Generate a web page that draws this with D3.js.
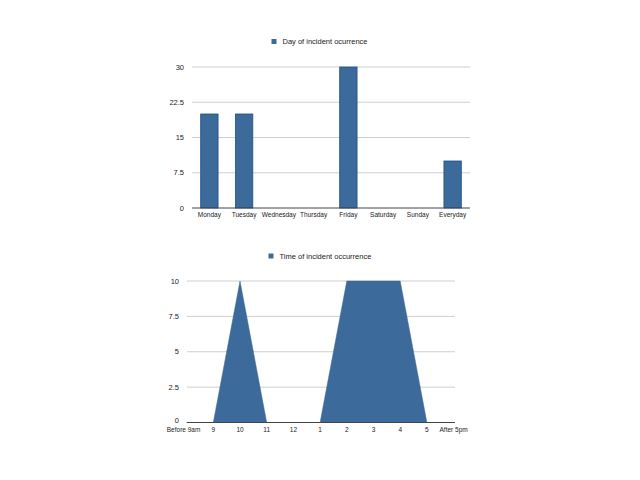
<!DOCTYPE html>
<html>
<head>
<meta charset="utf-8">
<script src="https://cdn.jsdelivr.net/npm/d3@7"></script>
<style>
  html, body { margin: 0; padding: 0; background: #fff; }
  text { font-family: "Liberation Sans", Arial, sans-serif; fill: #222; }
</style>
</head>
<body>
<div id="chart"></div>
<script>
// data
const days = ["Monday", "Tuesday", "Wednesday", "Thursday", "Friday", "Saturday", "Sunday", "Everyday"];
const dayCounts = [20, 20, 0, 0, 30, 0, 0, 10];
const dayTicks = [0, 7.5, 15, 22.5, 30];

const hours = ["Before 9am", "9", "10", "11", "12", "1", "2", "3", "4", "5", "After 5pm"];
const hourCounts = [0, 0, 10, 0, 0, 0, 10, 10, 10, 0, 0];
const hourTicks = [0, 2.5, 5, 7.5, 10];

const BAR_FILL = "#3b6a9b";
const BAR_STROKE = "#1d5088";
const GRID = "#cfcfcf";
const AXIS = "#444";

const svg = d3.select("#chart").append("svg")
  .attr("width", 640)
  .attr("height", 480);

// legend: square + label
function legend(x, y, label) {
  svg.append("rect")
    .attr("x", x).attr("y", y - 2.5)
    .attr("width", 5).attr("height", 5)
    .attr("fill", BAR_FILL);
  svg.append("text")
    .attr("x", x + 11).attr("y", y)
    .attr("dy", "0.35em")
    .attr("font-size", "7.5px")
    .text(label);
}

// y gridlines + labels (zeroLift nudges the "0" label up a bit)
function yGrid(y, ticks, x0, x1, zeroLift) {
  const g = svg.append("g");
  g.selectAll("line")
    .data(ticks.filter(t => t !== 0))
    .join("line")
    .attr("x1", x0).attr("x2", x1)
    .attr("y1", d => y(d)).attr("y2", d => y(d))
    .attr("stroke", GRID).attr("stroke-width", 1);
  g.selectAll("text")
    .data(ticks)
    .join("text")
    .attr("x", x0 - 8)
    .attr("y", d => y(d) - (d === 0 ? zeroLift : 0))
    .attr("dy", "0.35em")
    .attr("text-anchor", "end")
    .attr("font-size", "7.5px")
    .text(d => d);
}

//---------------- day chart (bars) ----------------
legend(271.5, 41.5, "Day of incident ocurrence");

const x1 = d3.scaleBand()
  .domain(days)
  .range([192, 470])
  .paddingInner(0.5)
  .paddingOuter(0.25);

const y1 = d3.scaleLinear()
  .domain([0, 30])
  .range([208, 67]);

yGrid(y1, dayTicks, 192, 470, 0);

svg.append("g")
  .selectAll("rect")
  .data(days.map((d, i) => ({ day: d, v: dayCounts[i] })).filter(d => d.v > 0))
  .join("rect")
  .attr("x", d => x1(d.day))
  .attr("y", d => y1(d.v))
  .attr("width", x1.bandwidth())
  .attr("height", d => y1(0) - y1(d.v))
  .attr("fill", BAR_FILL)
  .attr("stroke", BAR_STROKE)
  .attr("stroke-width", 0.8);

svg.append("line")
  .attr("x1", 192).attr("x2", 470)
  .attr("y1", y1(0)).attr("y2", y1(0))
  .attr("stroke", AXIS);

svg.append("g")
  .selectAll("text")
  .data(days)
  .join("text")
  .attr("x", d => x1(d) + x1.bandwidth() / 2)
  .attr("y", 215)
  .attr("dy", "0.35em")
  .attr("text-anchor", "middle")
  .attr("font-size", "6.5px")
  .text(d => d);

//---------------- time chart (area) ----------------
legend(268.5, 256, "Time of incident occurrence");

const x2 = d3.scalePoint()
  .domain(hours)
  .range([186.6, 453.6]);

const y2 = d3.scaleLinear()
  .domain([0, 10])
  .range([422.5, 281]);

yGrid(y2, hourTicks, 187, 455, 2);

const area = d3.area()
  .x((d, i) => x2(hours[i]))
  .y0(y2(0))
  .y1(d => y2(d));

svg.append("path")
  .datum(hourCounts)
  .attr("d", area)
  .attr("fill", BAR_FILL)
  .attr("stroke", BAR_FILL)
  .attr("stroke-width", 0.5);

svg.append("line")
  .attr("x1", 187).attr("x2", 455)
  .attr("y1", y2(0)).attr("y2", y2(0))
  .attr("stroke", AXIS);

svg.append("g")
  .selectAll("text")
  .data(hours)
  .join("text")
  .attr("x", d => x2(d) - (d === "Before 9am" ? 3 : 0))
  .attr("y", 430)
  .attr("dy", "0.35em")
  .attr("text-anchor", "middle")
  .attr("font-size", "6.5px")
  .text(d => d);
</script>
</body>
</html>
